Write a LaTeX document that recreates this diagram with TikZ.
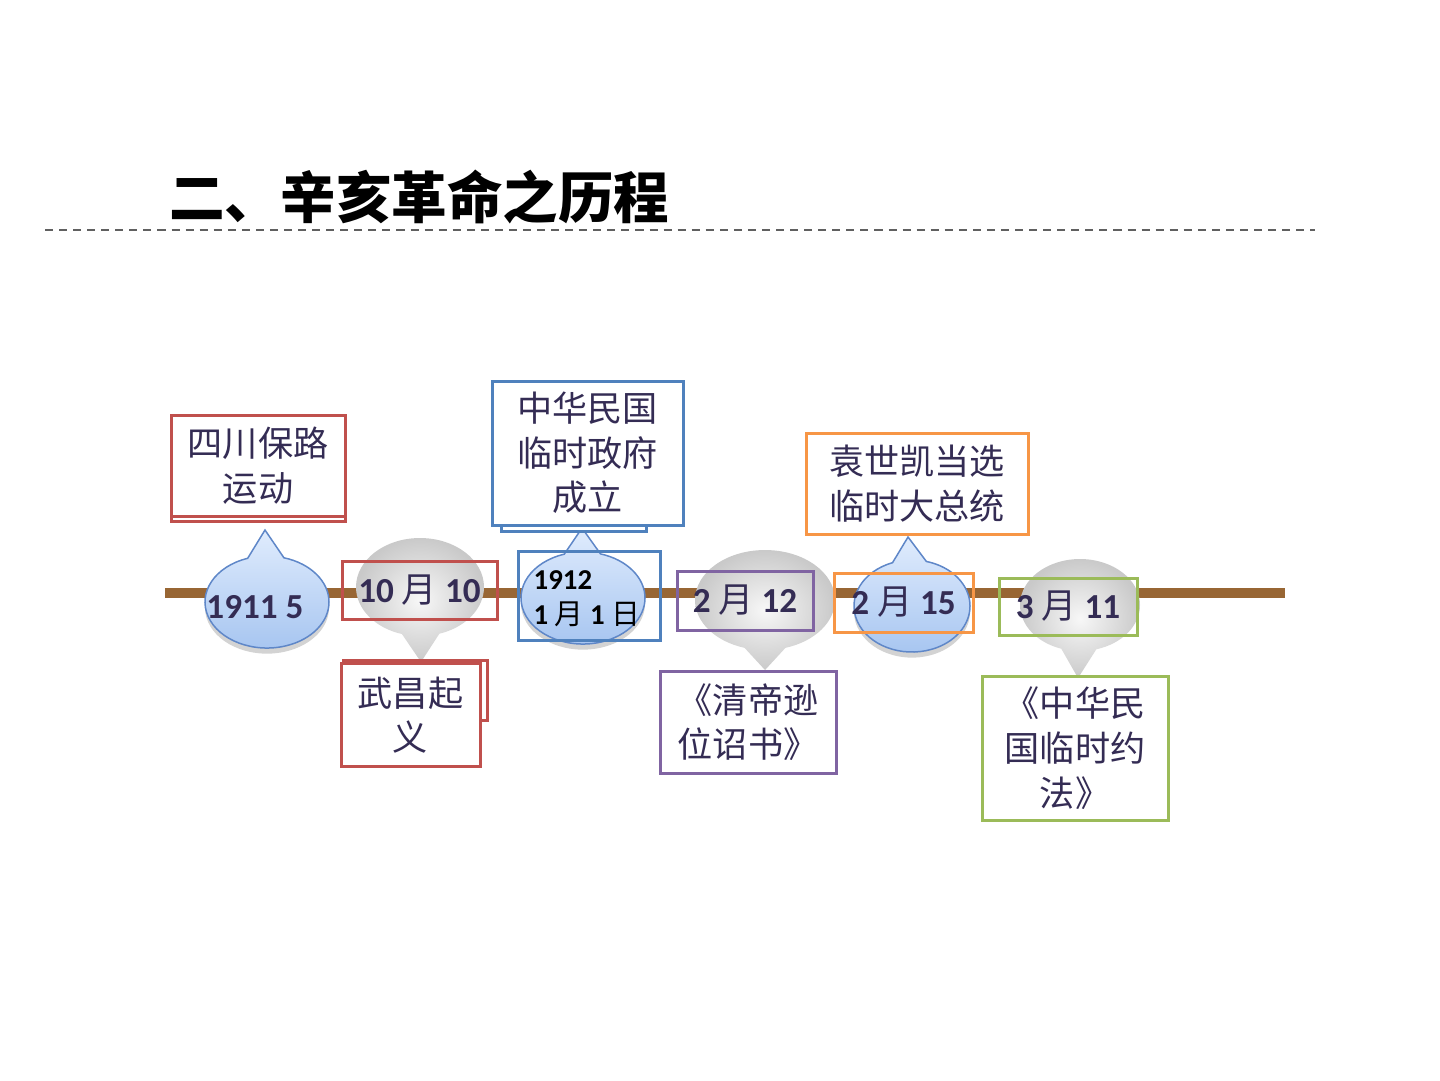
\documentclass[tikz,border=0pt]{standalone}
\usepackage{fontspec}
\setmainfont{Carlito}
\newfontfamily\cjk{Noto Sans CJK SC}
\usetikzlibrary{shapes.callouts,shadows}
\definecolor{txt}{RGB}{52,44,84}
\definecolor{barbrown}{RGB}{152,102,52}
\definecolor{cred}{RGB}{192,80,77}
\definecolor{cblue}{RGB}{79,129,189}
\definecolor{cpurple}{RGB}{128,100,162}
\definecolor{corange}{RGB}{247,150,70}
\definecolor{cgreen}{RGB}{155,187,89}
\definecolor{bubtop}{RGB}{224,236,253}
\definecolor{bubbot}{RGB}{165,196,240}
\definecolor{bubline}{RGB}{95,135,200}
\newcommand{\ch}[1]{{\cjk\mdseries #1}}
\tikzset{
  evbox/.style={draw=#1,line width=0.3mm,fill=white,align=center,text=txt,
    font=\cjk\fontsize{10}{12.7}\selectfont,inner sep=0pt},
  backbox/.style={draw=#1,line width=0.3mm,fill=white},
  datebox/.style={draw=#1,line width=0.3mm,inner sep=0pt,text=txt,
    font=\bfseries\fontsize{10}{12}\selectfont},
  bubblue/.style={ellipse callout,draw=bubline,line width=0.15mm,
    top color=bubtop,bottom color=bubbot,inner sep=0pt,callout pointer arc=34,
    drop shadow={shadow xshift=0pt,shadow yshift=-1.6pt,opacity=0.35}},
  bubgray/.style={ellipse callout,shading=radial,inner color=gray!6,
    outer color=gray!42,inner sep=0pt,callout pointer arc=34}
}
\begin{document}
\begin{tikzpicture}[x=0.1mm,y=-0.1mm]
\useasboundingbox (0,0) rectangle (1440,1080);
\node[anchor=west,font=\cjk\bfseries\fontsize{15.8}{18}\selectfont] (title) at (157,197) {二、辛亥革命之历程};
\coordinate (dl) at (45,230);
\coordinate (dr) at (1315,230);
\draw[gray!75!black,line width=0.15mm,dash pattern=on 2.3pt off 1.7pt] (dl) -- (dr);
\coordinate (bl) at (165,593);
\coordinate (br) at (1285,593);
\draw[barbrown,line width=1mm] (bl) -- (br);

\coordinate (t1) at (265,530);
\coordinate (t2) at (421,662);
\coordinate (t3) at (582,528);
\coordinate (t4) at (765,670);
\coordinate (t5) at (908,537);
\coordinate (t6) at (1078,678);
\node[bubblue,minimum width=12.4mm,minimum height=9.2mm,callout absolute pointer=(t1)] (b1) at (267,602) {};
\node[bubgray,minimum width=12.8mm,minimum height=9.8mm,callout absolute pointer=(t2)] (b2) at (420,587) {};
\node[bubblue,minimum width=12.4mm,minimum height=9.2mm,callout absolute pointer=(t3)] (b3) at (583,598) {};
\node[bubgray,minimum width=14mm,minimum height=10mm,callout absolute pointer=(t4)] (b4) at (765,600) {};
\node[bubblue,minimum width=11.6mm,minimum height=9.2mm,callout absolute pointer=(t5)] (b5) at (912,606) {};
\node[bubgray,minimum width=12mm,minimum height=9.2mm,callout absolute pointer=(t6)] (b6) at (1080,605) {};

\node[text=txt,font=\bfseries\fontsize{10}{12}\selectfont] (d1) at (255,607) {1911 5};
\node[datebox=cred,minimum width=15.5mm,minimum height=5.8mm] (d2) at (419.5,590) {\raisebox{-0.8pt}{10 \ch{月} 10}};
\node[datebox=cblue,minimum width=14.2mm,minimum height=8.9mm] (d3) at (589,595.5) {};
\node[anchor=west,align=left,inner sep=0pt,font=\bfseries\fontsize{8.2}{10}\selectfont] (d3t) at (533,599) {1912\\1 \ch{月} 1 \ch{日}};
\node[datebox=cpurple,minimum width=13.6mm,minimum height=5.9mm] (d4) at (745,600.5) {\raisebox{-0.6pt}{2 \ch{月} 12}};
\node[datebox=corange,minimum width=13.9mm,minimum height=5.9mm] (d5) at (903.5,602.5) {\raisebox{-0.6pt}{2 \ch{月} 15}};
\node[datebox=cgreen,minimum width=13.8mm,minimum height=5.7mm] (d6) at (1068,606.5) {\raisebox{-0.6pt}{3 \ch{月} 11}};

\draw[backbox=cred] (171,440) rectangle (345,521);
\node[evbox=cred,minimum width=17.4mm,minimum height=10.1mm] (ev1) at (258,465.5) {四川保路\\运动};
\draw[backbox=cred] (343,660) rectangle (487,720);
\node[evbox=cred,minimum width=13.9mm,minimum height=10.3mm] (ev2) at (410.5,715) {武昌起\\义};
\draw[backbox=cblue] (501,480) rectangle (646,531);
\node[evbox=cblue,minimum width=19.1mm,minimum height=14.4mm] (ev3) at (587.5,453) {中华民国\\临时政府\\成立};
\node[evbox=corange,minimum width=22.2mm,minimum height=10.1mm] (ev4) at (917,483.5) {袁世凯当选\\临时大总统};
\node[evbox=cpurple,minimum width=17.6mm,minimum height=10.2mm] (ev5) at (748,722) {《清帝逊\\位诏书》};
\node[evbox=cgreen,minimum width=18.6mm,minimum height=14.4mm] (ev6) at (1075,748) {《中华民\\国临时约\\法》};
\end{tikzpicture}
\end{document}
